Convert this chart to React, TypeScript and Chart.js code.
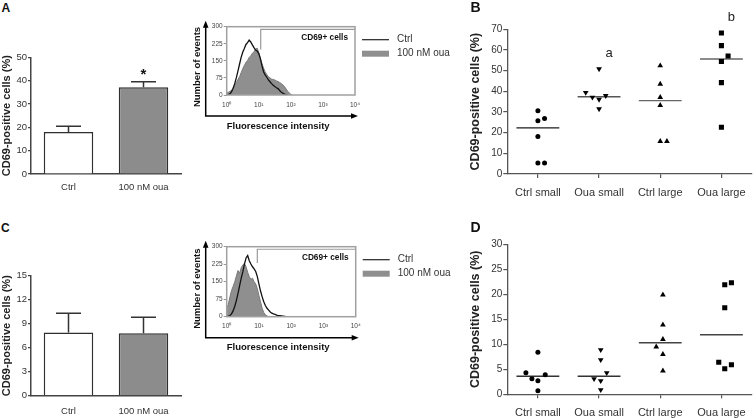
import React, { useEffect, useRef } from 'react';
import { Chart, registerables } from 'chart.js';

Chart.register(...registerables);

const FONT = "'Liberation Sans', Arial, Helvetica, sans-serif";

// ---------- Panels A & C : bar charts ----------
const barCategories = ['Ctrl', '100 nM oua'];
const barAMeans = [18.0, 37.2];
const barAUpper = [20.5, 39.5];
const barAMarks = ['', '*'];
const barCMeans = [7.9, 7.8];
const barCUpper = [10.3, 9.8];
const barCMarks = ['', ''];
const yTitle = 'CD69-positive cells (%)';

// ---------- Histograms (A and C insets) ----------
const histBins = [
  1, 1.12, 1.26, 1.41, 1.58, 1.78, 2, 2.24, 2.51, 2.82,
  3.16, 3.55, 3.98, 4.47, 5.01, 5.62, 6.31, 7.08, 7.94, 8.91,
  10, 11.2, 12.6, 14.1, 15.8, 17.8, 20, 22.4, 25.1, 28.2,
  31.6, 35.5, 39.8, 44.7, 50.1, 56.2, 63.1, 70.8, 79.4, 89.1,
  100, 112, 126, 141, 158, 178, 200,
];
const histACtrl = [
  0, 2, 5, 14, 30, 50, 76, 105, 135, 165,
  188, 204, 222, 230, 241, 233, 220, 208, 198, 193,
  182, 160, 128, 102, 88, 78, 66, 58, 50, 43,
  37, 32, 28, 20, 13, 8, 4, 1, 0,
];
const histAOua = [
  8, 12, 16, 20, 28, 42, 55, 68, 80, 98,
  115, 130, 143, 152, 165, 172, 183, 190, 201, 206,
  186, 162, 138, 118, 102, 90, 80, 75, 70, 68,
  66, 62, 59, 55, 50, 45, 37, 27, 17, 9,
  3, 0,
];
const histCCtrl = [
  0, 2, 5, 12, 25, 45, 70, 100, 132, 165,
  192, 225, 252, 262, 240, 226, 214, 205, 194, 172,
  140, 110, 85, 64, 48, 36, 28, 20, 15, 12,
  10, 7, 5, 4, 3, 2, 1, 0,
];
const histCOua = [
  40, 52, 85, 112, 130, 150, 175, 198, 186, 210,
  222, 228, 214, 190, 172, 160, 165, 150, 140, 120,
  90, 64, 36, 18, 8, 3, 0,
];
const histXTicks = [1, 10, 100, 1000, 10000];
const histXTickLabels = ['10\u2070', '10\u00B9', '10\u00B2', '10\u00B3', '10\u2074'];
const histYTicks = [0, 75, 150, 225, 300];
// gate: [start intensity, lower event count, upper event count]
const gateA = [11.5, 200, 288];
const gateC = [8.9, 230, 289];
const histLegend = ['Ctrl', '100 nM oua'];

// ---------- Panels B & D : dot plots ----------
const groups = ['Ctrl small', 'Oua small', 'Ctrl large', 'Oua large'];
const bCtrlSmall = [30.6, 25.8, 26.9, 18.1, 5.3, 5.3];
const bOuaSmall = [50.8, 39.4, 37.1, 36.1, 37.9, 31.5];
const bCtrlLarge = [52.4, 43.5, 37.1, 33.2, 15.8, 15.8];
const bOuaLarge = [68.2, 62.1, 54.4, 57.1, 44.2, 22.6];
const bMeans = [22.3, 37.4, 35.5, 55.6];
const bLetters = ['', 'a', '', 'b'];
const bSpread = [
  [0, 0, 1, 0, 0, 1],
  [0, -2, -1, 0, 1, 0],
  [0, 0, 0, 0, 0, 1],
  [0, 0, 0, 1, 0, 0],
];
const dCtrlSmall = [8.4, 4.3, 3.9, 3.1, 2.7, 0.7];
const dOuaSmall = [8.9, 6.9, 4.3, 3.1, 2.7, 0.9];
const dCtrlLarge = [19.9, 13.9, 11.0, 9.5, 8.0, 4.7];
const dOuaLarge = [21.9, 22.3, 17.3, 6.4, 5.1, 5.9];
const dMeans = [3.6, 3.6, 10.3, 11.9];
const dLetters = ['', '', '', ''];
const dSpread = [
  [0, -1.8, 1.1, -0.9, 0, 0],
  [0.25, 0.25, 1.15, -0.75, 0.25, 0.25],
  [0.4, 0.4, 0.4, -0.6, 0.4, 0.4],
  [0.5, 1.5, 0.5, -0.4, 0.5, 1.5],
];

const SPREAD_STEP = 0.109;
const MEAN_HALF = 0.35;

// ---------------- helpers ----------------
function ChartCanvas({ left, top, width, height, make }: any) {
  const ref = useRef<HTMLCanvasElement>(null);
  useEffect(() => {
    const chart = new Chart(ref.current as HTMLCanvasElement, make());
    return () => chart.destroy();
  }, []);
  return (
    <canvas
      ref={ref}
      width={width}
      height={height}
      style={{ position: 'absolute', left, top, width, height }}
    />
  );
}

function errorBarsPlugin(upper: number[], marks: string[]) {
  return {
    id: 'errbars',
    afterDatasetsDraw(chart: any) {
      const ctx = chart.ctx;
      const meta = chart.getDatasetMeta(0);
      const y = chart.scales.y;
      ctx.save();
      ctx.strokeStyle = '#333';
      ctx.lineWidth = 1.5;
      meta.data.forEach((bar: any, i: number) => {
        const top = y.getPixelForValue(upper[i]);
        ctx.beginPath();
        ctx.moveTo(bar.x, bar.y);
        ctx.lineTo(bar.x, top);
        ctx.moveTo(bar.x - 12.5, top);
        ctx.lineTo(bar.x + 12.5, top);
        ctx.stroke();
        if (marks[i]) {
          ctx.fillStyle = '#111';
          ctx.font = `bold 15px ${FONT}`;
          ctx.textAlign = 'center';
          ctx.textBaseline = 'alphabetic';
          ctx.fillText(marks[i], bar.x, top - 3);
        }
      });
      ctx.restore();
    },
  };
}

function barConfig(means: number[], upper: number[], marks: string[], yMax: number, step: number,
  padTop: number, xHeight: number, tickPad: number) {
  return {
    type: 'bar',
    data: {
      labels: barCategories,
      datasets: [{
        data: means,
        backgroundColor: ['#ffffff', '#8c8c8c'],
        borderColor: '#2e2e2e',
        borderWidth: 1.5,
        barPercentage: 0.66,
        categoryPercentage: 1,
      }],
    },
    options: {
      animation: false,
      responsive: false,
      layout: { padding: { top: padTop, right: 9, left: 0, bottom: 0 } },
      plugins: { legend: { display: false }, tooltip: { enabled: false } },
      scales: {
        x: {
          grid: { display: false, drawTicks: false },
          border: { display: true, color: '#444', width: 1.5 },
          ticks: { font: { family: FONT, size: 9.5 }, color: '#333', padding: tickPad },
          afterFit: (s: any) => { s.height = xHeight; },
        },
        y: {
          min: 0, max: yMax,
          ticks: { stepSize: step, font: { family: FONT, size: 9.5 }, color: '#333', padding: 1 },
          grid: { display: true, drawOnChartArea: false, drawTicks: true, tickLength: 3, color: '#444', lineWidth: 1.2 },
          border: { display: true, color: '#444', width: 1.5 },
          title: { display: true, text: yTitle, font: { family: FONT, size: 11, weight: 'bold' }, color: '#222', padding: 0 },
          afterFit: (s: any) => { s.width = 31; },
        },
      },
    },
    plugins: [errorBarsPlugin(upper, marks)],
  };
}

function histDecorPlugin(gate: number[]) {
  return {
    id: 'histdecor',
    afterDraw(chart: any) {
      const { ctx, chartArea: a, scales } = chart;
      const xs = scales.x, ys = scales.y;
      ctx.save();
      // gate
      const gx = xs.getPixelForValue(gate[0]);
      const gLow = ys.getPixelForValue(gate[1]);
      const gHigh = ys.getPixelForValue(gate[2]);
      ctx.strokeStyle = '#9a9a9a';
      ctx.lineWidth = 1.2;
      ctx.beginPath();
      ctx.moveTo(gx, gLow);
      ctx.lineTo(gx, gHigh);
      ctx.lineTo(a.right, gHigh);
      ctx.stroke();
      // frame
      ctx.strokeStyle = '#a0a0a0';
      ctx.lineWidth = 1.5;
      ctx.strokeRect(a.left, a.top, a.right - a.left, a.bottom - a.top);
      // gate label
      ctx.fillStyle = '#111';
      ctx.font = `bold 8.3px ${FONT}`;
      ctx.textAlign = 'right';
      ctx.textBaseline = 'middle';
      ctx.fillText('CD69+ cells', a.right - 7, a.top + 11.5);
      // axis arrows
      const ax = a.left - 21;
      const ay = a.bottom + 21;
      ctx.strokeStyle = '#000';
      ctx.fillStyle = '#000';
      ctx.lineWidth = 1.5;
      ctx.beginPath();
      ctx.moveTo(ax, a.top - 2);
      ctx.lineTo(ax, ay);
      ctx.lineTo(a.right - 1, ay);
      ctx.stroke();
      ctx.beginPath();
      ctx.moveTo(ax, a.top - 6);
      ctx.lineTo(ax - 2.8, a.top + 1);
      ctx.lineTo(ax + 2.8, a.top + 1);
      ctx.closePath();
      ctx.fill();
      ctx.beginPath();
      ctx.moveTo(a.right + 3, ay);
      ctx.lineTo(a.right - 4, ay - 2.8);
      ctx.lineTo(a.right - 4, ay + 2.8);
      ctx.closePath();
      ctx.fill();
      // axis titles
      ctx.fillStyle = '#111';
      ctx.font = `bold 9.5px ${FONT}`;
      ctx.textAlign = 'left';
      ctx.textBaseline = 'middle';
      ctx.fillText('Fluorescence intensity', a.left, a.bottom + 31);
      ctx.save();
      ctx.translate(a.left - 29, a.bottom - 28);
      ctx.rotate(-Math.PI / 2);
      ctx.textAlign = 'center';
      ctx.fillText('Number of events', 0, 0);
      ctx.restore();
      // legend
      const lx = a.right + 7;
      ctx.strokeStyle = '#222';
      ctx.lineWidth = 1.2;
      ctx.beginPath();
      ctx.moveTo(lx, a.top + 13);
      ctx.lineTo(lx + 27, a.top + 13);
      ctx.stroke();
      ctx.fillStyle = '#8f8f8f';
      ctx.fillRect(lx, a.top + 24, 27, 6);
      ctx.fillStyle = '#333';
      ctx.font = `10px ${FONT}`;
      ctx.textAlign = 'left';
      ctx.fillText(histLegend[0], lx + 35, a.top + 13);
      ctx.fillText(histLegend[1], lx + 35, a.top + 27);
      ctx.restore();
    },
  };
}

function histConfig(ctrl: number[], oua: number[], gate: number[], padTop: number, padRight: number, xHeight: number) {
  return {
    type: 'line',
    data: {
      datasets: [
        {
          label: histLegend[0],
          data: ctrl.map((v, i) => ({ x: histBins[i], y: v })),
          borderColor: '#111',
          borderWidth: 1.3,
          pointRadius: 0,
          fill: false,
          tension: 0,
          order: 0,
        },
        {
          label: histLegend[1],
          data: oua.map((v, i) => ({ x: histBins[i], y: v })),
          borderColor: '#7a7a7a',
          backgroundColor: '#8f8f8f',
          borderWidth: 1,
          pointRadius: 0,
          fill: 'origin',
          tension: 0,
          order: 1,
        },
      ],
    },
    options: {
      animation: false,
      responsive: false,
      layout: { padding: { top: padTop, right: padRight, left: 0, bottom: 0 } },
      plugins: { legend: { display: false }, tooltip: { enabled: false } },
      scales: {
        x: {
          type: 'logarithmic', min: 1, max: 10000,
          afterBuildTicks: (s: any) => { s.ticks = histXTicks.map((v) => ({ value: v })); },
          ticks: {
            autoSkip: false, maxRotation: 0,
            callback: (_v: any, i: number) => histXTickLabels[i],
            font: { family: FONT, size: 6.5 }, color: '#444', padding: 6,
          },
          grid: { display: false, drawTicks: false },
          border: { display: false },
          afterFit: (s: any) => { s.height = xHeight; },
        },
        y: {
          min: 0, max: 300,
          afterBuildTicks: (s: any) => { s.ticks = histYTicks.map((v) => ({ value: v })); },
          ticks: { autoSkip: false, font: { family: FONT, size: 6.5 }, color: '#444', padding: 1 },
          grid: { display: true, drawOnChartArea: false, drawTicks: true, tickLength: 3, color: '#999' },
          border: { display: false },
          afterFit: (s: any) => { s.width = 41.7; },
        },
      },
    },
    plugins: [histDecorPlugin(gate)],
  };
}

function lettersPlugin(series: number[][], letters: string[]) {
  return {
    id: 'letters',
    afterDraw(chart: any) {
      const { ctx, scales } = chart;
      ctx.save();
      ctx.fillStyle = '#222';
      ctx.font = `13px ${FONT}`;
      ctx.textAlign = 'center';
      ctx.textBaseline = 'alphabetic';
      letters.forEach((l, g) => {
        if (!l) return;
        const x = scales.x.getPixelForValue(g + 1) + 10;
        const y = scales.y.getPixelForValue(Math.max(...series[g])) - 12;
        ctx.fillText(l, x, y);
      });
      ctx.restore();
    },
  };
}

function scatterConfig(series: number[][], spread: number[][], means: number[], meanColors: string[],
  letters: string[], yMax: number, step: number, padTop: number, xHeight: number) {
  const styles = [
    { s: 'circle', r: 2.5, rot: 0 },
    { s: 'triangle', r: 3.3, rot: 180 },
    { s: 'triangle', r: 3.3, rot: 0 },
    { s: 'rect', r: 3.6, rot: 0 },
  ];
  const points = series.map((vals, g) => ({
    data: vals.map((v, i) => ({ x: g + 1 + spread[g][i] * SPREAD_STEP, y: v })),
    pointStyle: styles[g].s,
    pointRadius: styles[g].r,
    pointRotation: styles[g].rot,
    backgroundColor: '#000',
    borderColor: '#000',
    borderWidth: 0,
    showLine: false,
  }));
  const lines = means.map((m, g) => ({
    data: [{ x: g + 1 - MEAN_HALF, y: m }, { x: g + 1 + MEAN_HALF, y: m }],
    borderColor: meanColors[g],
    borderWidth: 1.4,
    pointRadius: 0,
    showLine: true,
    fill: false,
  }));
  return {
    type: 'scatter',
    data: { datasets: [...points, ...lines] },
    options: {
      animation: false,
      responsive: false,
      layout: { padding: { top: padTop, right: 4, left: 0, bottom: 0 } },
      plugins: { legend: { display: false }, tooltip: { enabled: false } },
      scales: {
        x: {
          type: 'linear', min: 0.5, max: 4.5,
          afterBuildTicks: (s: any) => { s.ticks = groups.map((_g, i) => ({ value: i + 1 })); },
          ticks: {
            autoSkip: false, maxRotation: 0,
            callback: (_v: any, i: number) => groups[i],
            font: { family: FONT, size: 11 }, color: '#333', padding: 8,
          },
          grid: { display: true, drawOnChartArea: false, drawTicks: true, tickLength: 4, color: '#555', lineWidth: 1.2 },
          border: { display: true, color: '#555', width: 1.3 },
          afterFit: (s: any) => { s.height = xHeight; },
        },
        y: {
          min: 0, max: yMax,
          ticks: { stepSize: step, font: { family: FONT, size: 10 }, color: '#333', padding: 1 },
          grid: { display: true, drawOnChartArea: false, drawTicks: true, tickLength: 4, color: '#555', lineWidth: 1.2 },
          border: { display: true, color: '#555', width: 1.3 },
          title: { display: true, text: yTitle, font: { family: FONT, size: 12.5, weight: 'bold' }, color: '#222', padding: { top: 18.5, bottom: 0 } },
          afterFit: (s: any) => { s.width = 57.3; },
        },
      },
    },
    plugins: [lettersPlugin(series, letters)],
  };
}

const letterStyle = (left: number, top: number, size: number): React.CSSProperties => ({
  position: 'absolute', left, top, fontFamily: FONT, fontWeight: 'bold', fontSize: size,
  lineHeight: `${size}px`, color: '#111', whiteSpace: 'nowrap',
});

export default function App() {
  return (
    <div style={{ position: 'fixed', left: 0, top: 0, width: 756, height: 418, background: '#fff', overflow: 'hidden' }}>
      <ChartCanvas left={0} top={40} width={190} height={170}
        make={() => barConfig(barAMeans, barAUpper, barAMarks, 50, 10, 17.3, 36, 8)} />
      <ChartCanvas left={0} top={255} width={190} height={163}
        make={() => barConfig(barCMeans, barCUpper, barCMarks, 15, 3, 20.7, 22.3, 10)} />
      <ChartCanvas left={185} top={10} width={266} height={135}
        make={() => histConfig(histACtrl, histAOua, gateA, 16.7, 96, 50)} />
      <ChartCanvas left={185} top={230} width={266} height={135}
        make={() => histConfig(histCCtrl, histCOua, gateC, 16.7, 95.3, 48.3)} />
      <ChartCanvas left={450} top={0} width={306} height={210}
        make={() => scatterConfig([bCtrlSmall, bOuaSmall, bCtrlLarge, bOuaLarge], bSpread, bMeans,
          ['#1a1a1a', '#555', '#666', '#666'], bLetters, 70, 10, 29.3, 36)} />
      <ChartCanvas left={450} top={210} width={306} height={208}
        make={() => scatterConfig([dCtrlSmall, dOuaSmall, dCtrlLarge, dOuaLarge], dSpread, dMeans,
          ['#333', '#333', '#444', '#444'], dLetters, 30, 5, 34.3, 23.7)} />
      <div style={letterStyle(1.5, 1.5, 12)}>A</div>
      <div style={letterStyle(470.5, 0, 14)}>B</div>
      <div style={letterStyle(1, 221.5, 12)}>C</div>
      <div style={letterStyle(470.5, 219.8, 14)}>D</div>
    </div>
  );
}
